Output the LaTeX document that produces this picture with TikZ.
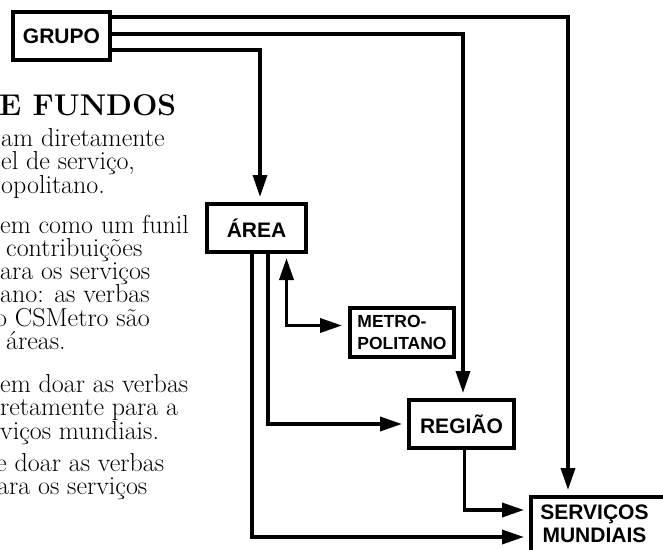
\documentclass[tikz,border=0pt]{standalone}
\usepackage{fontspec}
\newfontfamily\boxfont{Liberation Sans}
\usetikzlibrary{arrows.meta}

\begin{document}
\begin{tikzpicture}[x=1pt,y=-1pt,
  box/.style={draw, line width=4pt, outer sep=0pt, inner sep=0pt, minimum height=48pt,
    font=\boxfont\bfseries\fontsize{21}{23}\selectfont},
  conn/.style={line width=3.5pt},
  arrowto/.style={conn, -{Triangle[length=22pt,width=14pt]}, shorten >=7pt},
  txt/.style={anchor=base west, inner sep=0pt, text height=13pt, text depth=3pt,
    font=\fontsize{26}{26}\selectfont}]
\useasboundingbox (0,0) rectangle (663,549);
\clip (0,0) rectangle (663,549);
\node[box, minimum width=97pt] (grupo) at (61.5,36) {GRUPO};
\node[box, minimum width=99pt] (area) at (256.5,228) {ÁREA};
\node[box, minimum width=104pt, minimum height=49pt, align=left,
  font=\boxfont\bfseries\fontsize{17.5}{22}\selectfont] (metro) at (402,332.5) {METRO-\\POLITANO};
\node[box, minimum width=105pt] (regiao) at (461.5,424) {REGIÃO};
\node[box, minimum width=170pt, minimum height=80pt, anchor=north west] (mundo) at (531,497) {};
\node[anchor=north, align=center, inner sep=0pt,
  font=\boxfont\bfseries\fontsize{21}{23}\selectfont] (mundotxt) at (594.5,505) {SERVIÇOS\\MUNDIAIS};
\node[txt, font=\bfseries\fontsize{30}{30}\selectfont\addfontfeatures{LetterSpace=18}] (titulo) at (-1,115) {E FUNDOS};
\node[txt] (p1a) at (1,146) {am diretamente};
\node[txt] (p1b) at (1,169.5) {el de serviço,};
\node[txt] (p1c) at (1,193) {opolitano.};
\node[txt] (p2a) at (0,233) {em como um funil};
\node[txt] (p2b) at (6,256.3) {contribuições};
\node[txt] (p2c) at (0,279.6) {ara os serviços};
\node[txt] (p2d) at (0,302.9) {ano: as verbas};
\node[txt] (p2e) at (-5,326.2) {o CSMetro são};
\node[txt] (p2f) at (6,349.5) {áreas.};
\node[txt] (p3a) at (0,392.5) {em doar as verbas};
\node[txt] (p3b) at (0,415.8) {retamente para a};
\node[txt] (p3c) at (0,439.1) {viços mundiais.};
\node[txt] (p4a) at (-4,471.5) {e doar as verbas};
\node[txt] (p4b) at (-3,494.8) {ara os serviços};
\draw[arrowto] ([yshift=19pt]grupo.east) -| ([xshift=-48pt]mundo.north);
\draw[arrowto] ([yshift=2pt]grupo.east) -| ([xshift=1.5pt]regiao.north);
\draw[arrowto] ([yshift=-14pt]grupo.east) -| ([xshift=3.5pt]area.north);
\draw[conn, {Triangle[length=22pt,width=14pt]}-{Triangle[length=22pt,width=14pt]}, shorten <=6pt, shorten >=8pt]
  ([xshift=30pt]area.south) |- ([yshift=7pt]metro.west);
\draw[arrowto] ([xshift=11.5pt]area.south) |- (regiao.west);
\draw[arrowto] ([xshift=-4.5pt]area.south) |- (mundo.west);
\draw[arrowto] ([xshift=3pt]regiao.south) |- ([yshift=27pt]mundo.west);
\end{tikzpicture}
\end{document}
